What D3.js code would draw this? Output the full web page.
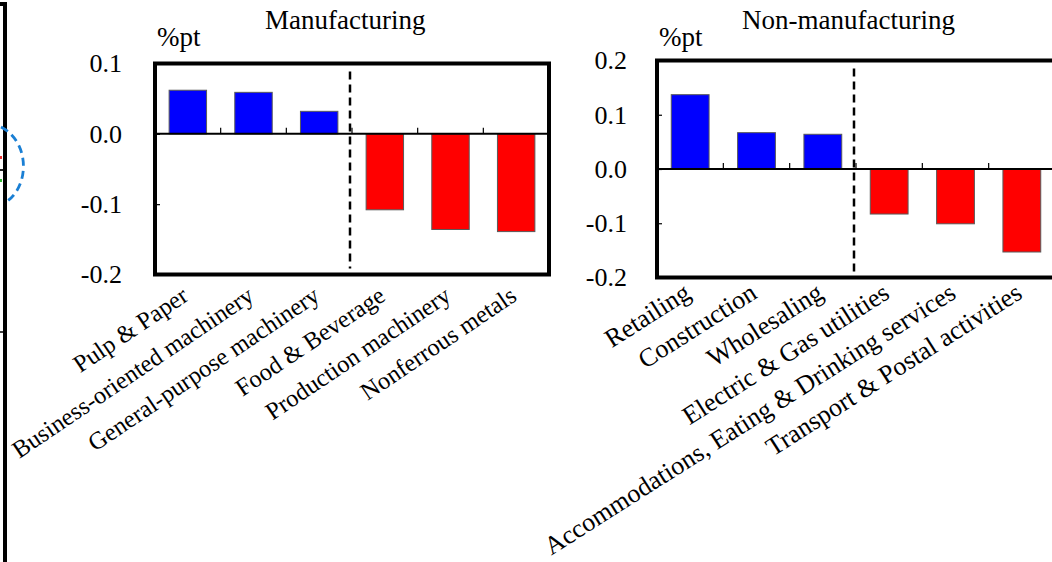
<!DOCTYPE html>
<html>
<head>
<meta charset="utf-8">
<script src="https://cdn.jsdelivr.net/npm/d3@7"></script>
<style>
  html, body { margin: 0; padding: 0; background: #fff; }
  svg { display: block; }
  text { font-family: "Liberation Serif", "Times New Roman", serif; fill: #000; }
</style>
</head>
<body>
<svg id="chart" width="1052" height="562"></svg>
<script>
// Contributions by industry, %pt
const mfgCategories = ["Pulp & Paper", "Business-oriented machinery", "General-purpose machinery",
                       "Food & Beverage", "Production machinery", "Nonferrous metals"];
const mfgValues = [0.062, 0.059, 0.032, -0.108, -0.136, -0.139];
const mfgTicks = [0.1, 0.0, -0.1, -0.2];

const nonCategories = ["Retailing", "Construction", "Wholesaling", "Electric & Gas utilities",
                       "Accommodations, Eating & Drinking services", "Transport & Postal activities"];
const nonValues = [0.137, 0.067, 0.064, -0.083, -0.101, -0.153];
const nonTicks = [0.2, 0.1, 0.0, -0.1, -0.2];

const svg = d3.select("#chart");
svg.append("rect").attr("width", 1052).attr("height", 562).attr("fill", "#fff");

// Edge of the neighbouring panel on the far left
const edge = svg.append("g");
edge.append("path").attr("d", "M0,4 H5 V562").attr("fill", "none")
  .attr("stroke", "#000").attr("stroke-width", 4);
edge.append("line").attr("x1", 0).attr("x2", 5).attr("y1", 332).attr("y2", 332)
  .attr("stroke", "#000").attr("stroke-width", 1.5);
edge.append("path").attr("d", "M1,127 C30,142 30,186 6,202").attr("fill", "none")
  .attr("stroke", "#1a7fd4").attr("stroke-width", 2.8).attr("stroke-dasharray", "8,5");
edge.append("rect").attr("x", 0).attr("y", 156).attr("width", 2).attr("height", 3).attr("fill", "#e33");
edge.append("rect").attr("x", 0).attr("y", 169).attr("width", 3).attr("height", 2).attr("fill", "#222");
edge.append("rect").attr("x", 0).attr("y", 179).attr("width", 2).attr("height", 3).attr("fill", "#3b3");

function panel(opts) {
  const { categories, values, ticks, domain, left, right, top, bottom,
          title, titleX, titleY, unitX, unitY, labelRight, split,
          fontSize, catFont, catAngle, catDy } = opts;
  const g = svg.append("g");

  const x = d3.scaleBand().domain(categories).range([left, right])
    .paddingInner(0.43).paddingOuter(0.215);
  const y = d3.scaleLinear().domain(domain).range([bottom, top]);
  const step = x.step();

  // bars
  g.selectAll("rect.bar").data(values).join("rect")
    .attr("class", "bar")
    .attr("x", (d, i) => x(categories[i]))
    .attr("width", x.bandwidth())
    .attr("y", d => y(Math.max(0, d)))
    .attr("height", d => Math.abs(y(d) - y(0)))
    .attr("fill", d => d >= 0 ? "#0000ff" : "#ff0000")
    .attr("stroke", "#5a5a5a").attr("stroke-width", 1);

  // zero line
  g.append("line").attr("x1", left).attr("x2", right)
    .attr("y1", y(0)).attr("y2", y(0))
    .attr("stroke", "#000").attr("stroke-width", 2);

  // category ticks on the zero line
  g.selectAll("line.ctick").data(d3.range(1, categories.length)).join("line")
    .attr("class", "ctick")
    .attr("x1", i => left + i * step).attr("x2", i => left + i * step)
    .attr("y1", y(0)).attr("y2", y(0) - 6)
    .attr("stroke", "#000").attr("stroke-width", 1.2);

  // inner value ticks
  const inner = d3.axisRight(y).tickValues(ticks).tickSize(5).tickFormat("");
  g.append("g").attr("transform", `translate(${left},0)`).call(inner)
    .call(a => a.select(".domain").remove())
    .call(a => a.selectAll("line").attr("stroke", "#000").attr("stroke-width", 1.2));

  // value labels
  const lab = d3.axisLeft(y).tickValues(ticks).tickSize(0).tickPadding(0)
    .tickFormat(d => d.toFixed(1));
  g.append("g").attr("transform", `translate(${labelRight},0)`).call(lab)
    .call(a => a.select(".domain").remove())
    .call(a => a.selectAll("text").attr("font-size", fontSize)
      .attr("font-family", "Liberation Serif, Times New Roman, serif").attr("fill", "#000"));

  // divider between positive and negative contributors
  const sx = left + split * step - 2;
  g.append("line").attr("x1", sx).attr("x2", sx)
    .attr("y1", top + 8).attr("y2", bottom - 6)
    .attr("stroke", "#000").attr("stroke-width", 2.5).attr("stroke-dasharray", "8,5");

  // plot frame
  g.append("rect").attr("x", left).attr("y", top)
    .attr("width", right - left).attr("height", bottom - top)
    .attr("fill", "none").attr("stroke", "#000").attr("stroke-width", 4);

  // category labels
  g.selectAll("text.cat").data(categories).join("text")
    .attr("class", "cat")
    .attr("font-size", catFont)
    .attr("text-anchor", "end")
    .attr("transform", d => `translate(${x(d) + x.bandwidth() / 2 + 2},${bottom + catDy}) rotate(${-catAngle})`)
    .text(d => d);

  // title and unit
  g.append("text").attr("x", titleX).attr("y", titleY).attr("font-size", fontSize + 1)
    .text(title);
  g.append("text").attr("x", unitX).attr("y", unitY).attr("font-size", fontSize + 1).text("%pt");
}

panel({
  categories: mfgCategories, values: mfgValues, ticks: mfgTicks, domain: [-0.2, 0.1],
  left: 155, right: 549, top: 63.5, bottom: 274.5,
  title: "Manufacturing", titleX: 265, titleY: 29, unitX: 157, unitY: 46,
  labelRight: 122, split: 3, fontSize: 26, catFont: 24.5, catAngle: 34, catDy: 25
});

panel({
  categories: nonCategories, values: nonValues, ticks: nonTicks, domain: [-0.2, 0.2],
  left: 657, right: 1055, top: 60.5, bottom: 277.5,
  title: "Non-manufacturing", titleX: 742, titleY: 29, unitX: 659, unitY: 46,
  labelRight: 627, split: 3, fontSize: 26, catFont: 26, catAngle: 32.5, catDy: 19.5
});
</script>
</body>
</html>
